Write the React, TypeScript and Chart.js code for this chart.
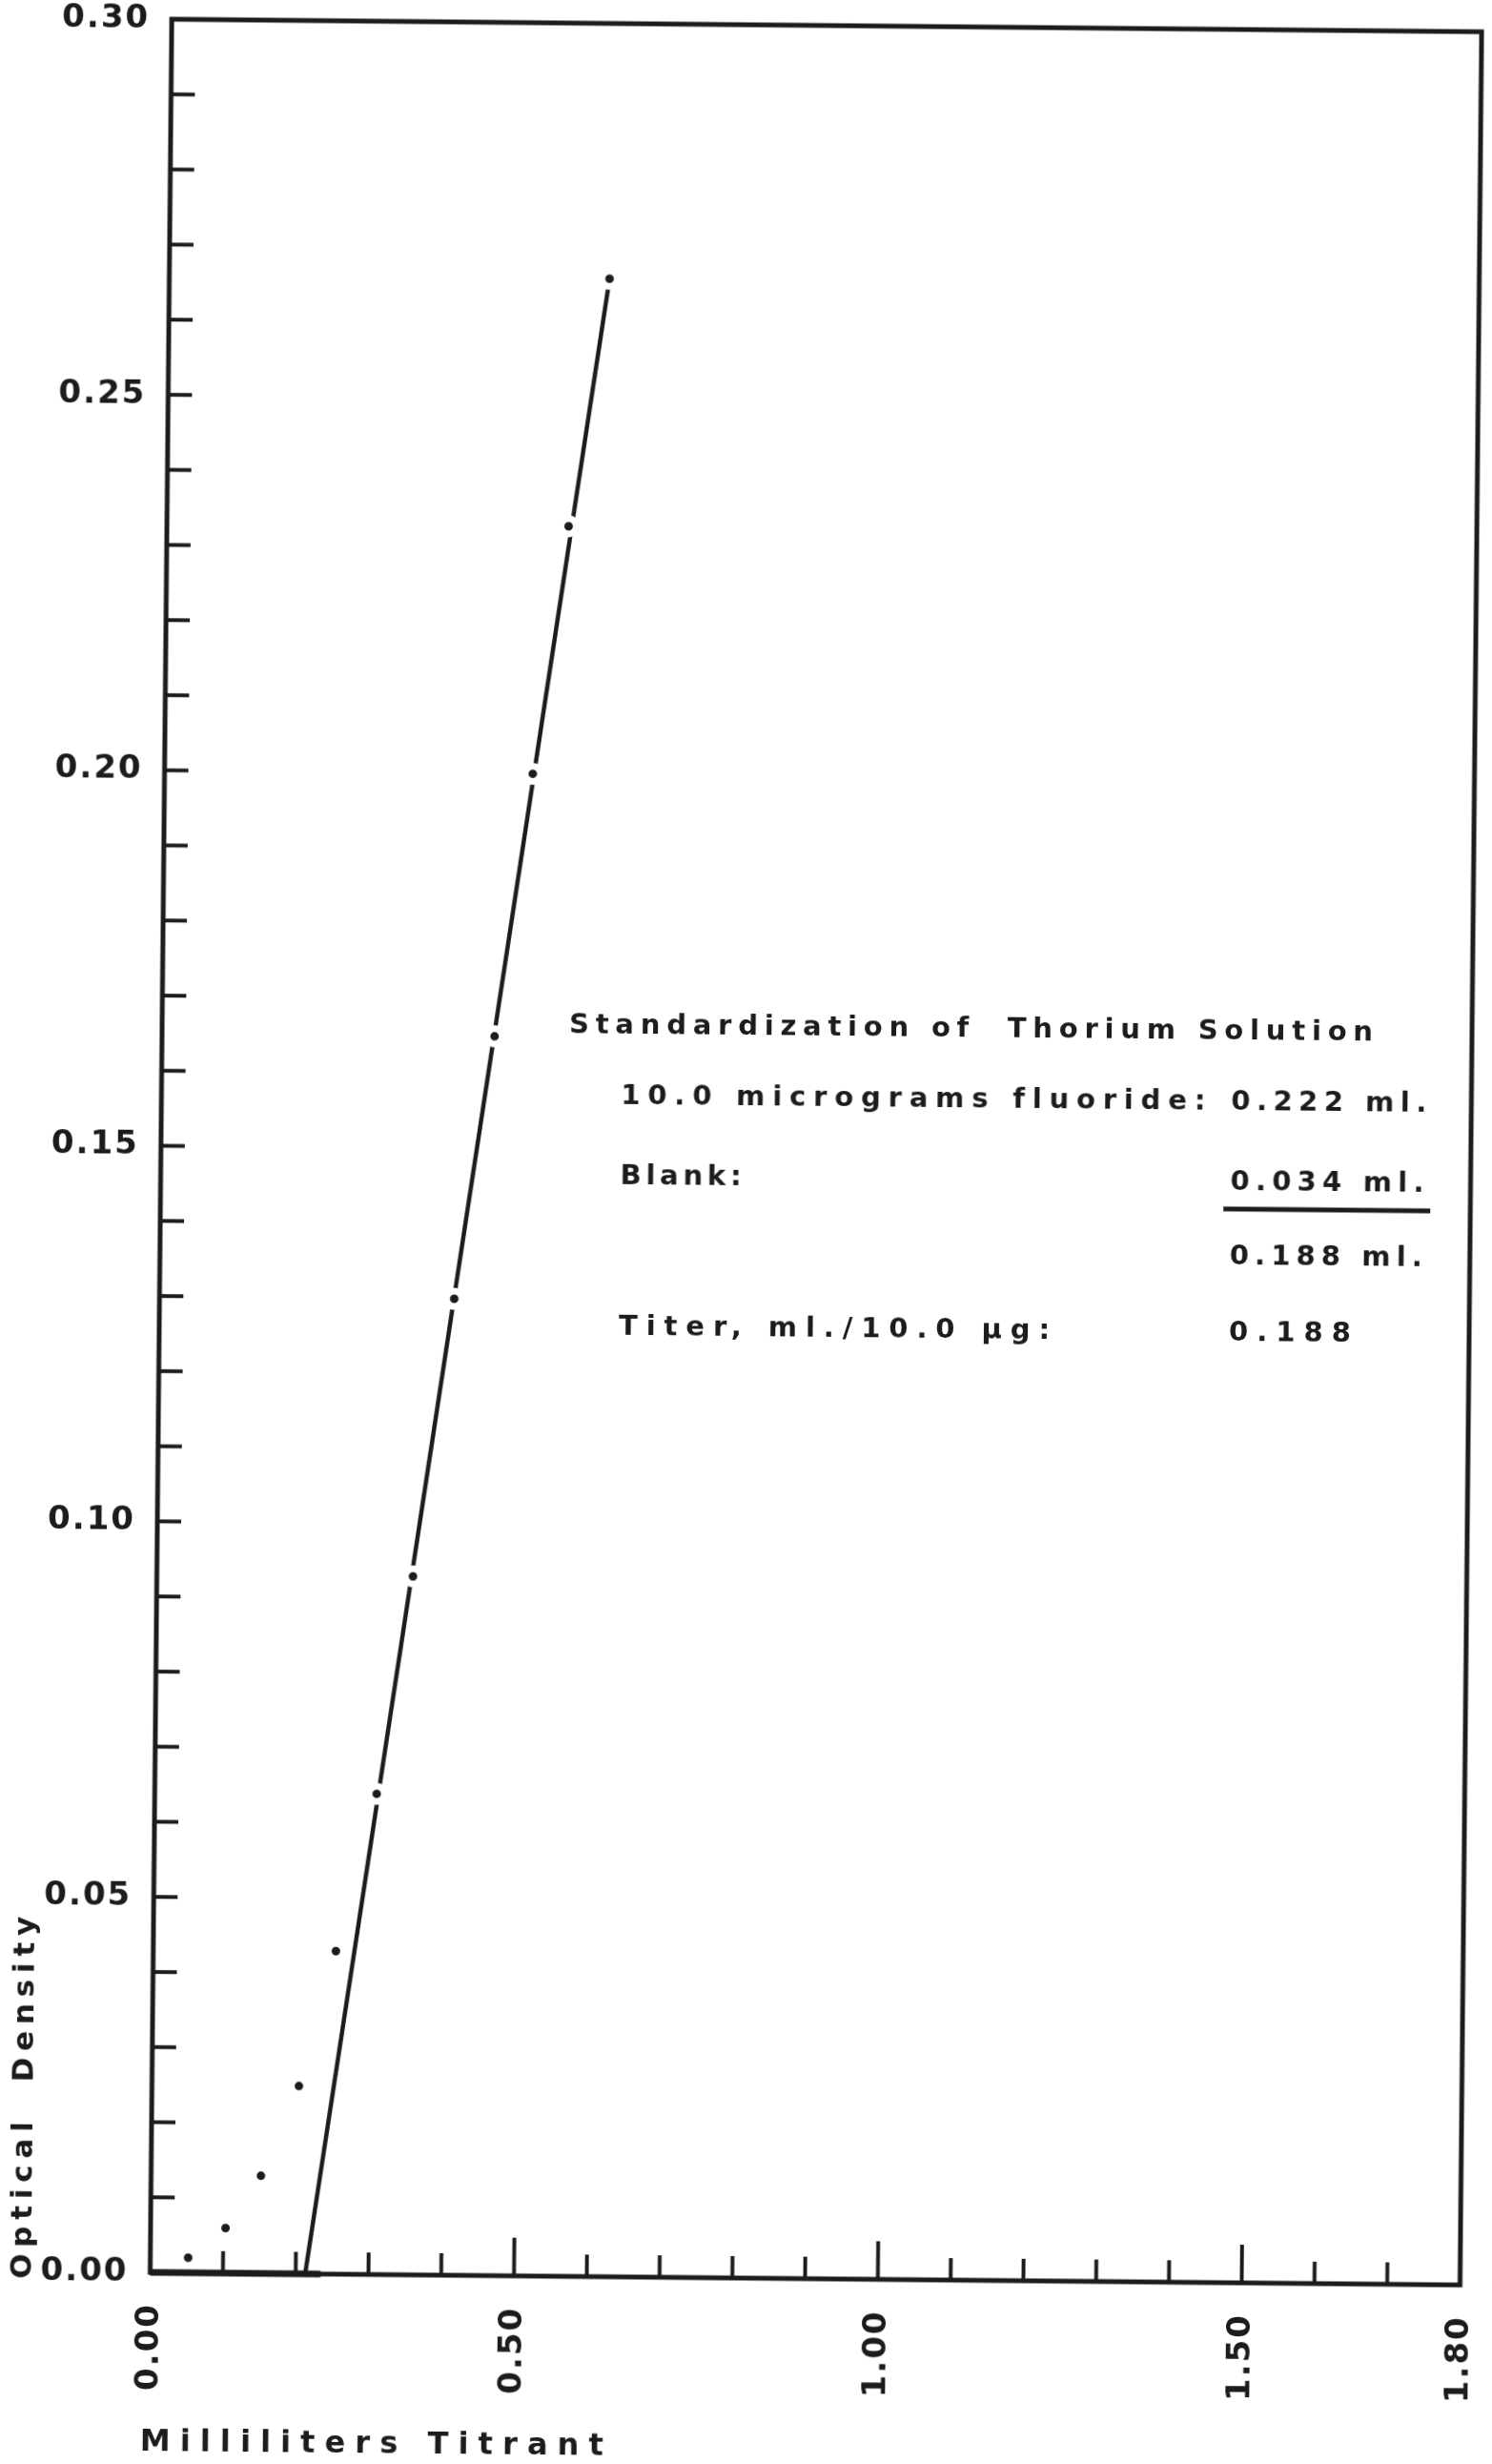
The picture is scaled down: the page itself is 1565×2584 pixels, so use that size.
import React, { useEffect, useRef } from 'react';
import { Chart, registerables } from 'chart.js';

Chart.register(...registerables);

const INK = '#1c1c1c';
const FONT = '"DejaVu Sans", sans-serif';

// ---- data ----
const titrantMl = [0.052, 0.103, 0.151, 0.202, 0.251, 0.305, 0.352, 0.405, 0.457, 0.506, 0.552, 0.605];
const opticalDensity = [0.002, 0.006, 0.013, 0.025, 0.043, 0.064, 0.093, 0.130, 0.165, 0.200, 0.233, 0.266];
const fitLineMl = [0.213, 0.605];
const fitLineOD = [0.0, 0.266];
const blankLineMl = [0.0, 0.234];
const blankLineOD = [0.0, 0.0];

const xTickValues = [0, 0.5, 1.0, 1.5, 1.8];
const xTickLabels = ['0.00', '0.50', '1.00', '1.50', '1.80'];
const xMajorTickValues = [0.5, 1.0, 1.5];
const yTickValues = [0, 0.05, 0.1, 0.15, 0.2, 0.25, 0.3];
const yTickLabels = ['0.00', '0.05', '0.10', '0.15', '0.20', '0.25', '0.30'];

const xAxisTitle = 'Milliliters Titrant';
const yAxisTitle = 'Optical  Density';
const noteHeading = 'Standardization of  Thorium Solution';
const noteRowLabels = ['10.0 micrograms fluoride:', 'Blank:', '', 'Titer, ml./10.0 µg:'];
const noteRowValues = ['0.222 ml.', '0.034 ml.', '0.188 ml.', '0.188'];

const near = (a: number, b: number) => Math.abs(a - b) < 1e-6;
const labelFor = (v: number, values: number[], labels: string[]) => {
  const i = values.findIndex((t) => near(t, v));
  return i >= 0 ? labels[i] : '';
};

// draws text spread out so that it spans the given width
function fitText(ctx: any, text: string, x: number, y: number, width: number, align: string) {
  ctx.letterSpacing = '0px';
  const natural = ctx.measureText(text).width;
  const spacing = Math.max(0, (width - natural) / Math.max(1, text.length - 1));
  ctx.letterSpacing = spacing + 'px';
  let sx = x;
  if (align === 'center') sx = x - width / 2;
  else if (align === 'right') sx = x - width;
  ctx.textAlign = 'left';
  ctx.fillText(text, sx, y);
  ctx.letterSpacing = '0px';
}

const paperPlugin = {
  id: 'paper',
  beforeDraw(chart: any) {
    chart.ctx.letterSpacing = '2px';
  },
  afterDraw(chart: any) {
    const { ctx, chartArea: a } = chart;
    const xs = chart.scales.x;
    const ys = chart.scales.y;
    ctx.save();
    ctx.letterSpacing = '0px';
    ctx.strokeStyle = INK;
    ctx.fillStyle = INK;
    ctx.lineCap = 'butt';

    // inward tick marks
    ctx.lineWidth = 4;
    for (const t of xs.ticks) {
      const px = xs.getPixelForValue(t.value);
      const len = xMajorTickValues.some((m) => near(m, t.value)) ? 40 : 23;
      ctx.beginPath();
      ctx.moveTo(px, a.bottom);
      ctx.lineTo(px, a.bottom - len);
      ctx.stroke();
    }
    for (const t of ys.ticks) {
      const py = ys.getPixelForValue(t.value);
      ctx.beginPath();
      ctx.moveTo(a.left, py);
      ctx.lineTo(a.left + 25, py);
      ctx.stroke();
    }

    // frame
    ctx.lineWidth = 5;
    ctx.strokeRect(a.left, a.top, a.right - a.left, a.bottom - a.top);

    // axis titles
    ctx.textBaseline = 'middle';
    ctx.font = `bold 32px ${FONT}`;
    fitText(ctx, xAxisTitle, 159, 2568, 486, 'left');
    ctx.save();
    ctx.translate(35, 2207);
    ctx.rotate(-Math.PI / 2);
    ctx.font = `bold 31px ${FONT}`;
    fitText(ctx, yAxisTitle, 0, 0, 380, 'center');
    ctx.restore();

    // note block
    ctx.font = `bold 29px ${FONT}`;
    fitText(ctx, noteHeading, 595, 1077, 843, 'left');
    const rowY = [1151, 1235, 1313, 1393];
    const labelW = [612, 127, 0, 452];
    const valueW = [205, 203, 202, 128];
    noteRowLabels.forEach((l, i) => {
      if (l) fitText(ctx, l, 650, rowY[i], labelW[i], 'left');
      fitText(ctx, noteRowValues[i], 1290, rowY[i], valueW[i], 'left');
    });
    ctx.lineWidth = 5;
    ctx.beginPath();
    ctx.moveTo(1283, 1263);
    ctx.lineTo(1500, 1263);
    ctx.stroke();

    ctx.restore();
    ctx.letterSpacing = '0px';
  },
};

export default function App() {
  const ref = useRef<HTMLCanvasElement | null>(null);

  useEffect(() => {
    if (!ref.current) return;
    const points = titrantMl.map((x, i) => ({ x, y: opticalDensity[i] }));
    const fit = fitLineMl.map((x, i) => ({ x, y: fitLineOD[i] }));
    const blank = blankLineMl.map((x, i) => ({ x, y: blankLineOD[i] }));

    const chart = new Chart(ref.current, {
      type: 'scatter',
      data: {
        datasets: [
          {
            label: 'Readings',
            data: points,
            showLine: false,
            pointRadius: 8,
            pointBackgroundColor: INK,
            pointBorderColor: '#ffffff',
            pointBorderWidth: 7,
            order: 0,
          },
          {
            label: 'Titration line',
            data: fit,
            showLine: true,
            borderColor: INK,
            borderWidth: 4.5,
            pointRadius: 0,
            order: 1,
          },
          {
            label: 'Blank',
            data: blank,
            showLine: true,
            borderColor: INK,
            borderWidth: 7,
            pointRadius: 0,
            clip: false,
            order: 2,
          },
        ],
      } as any,
      options: {
        responsive: false,
        animation: false,
        events: [],
        devicePixelRatio: 1,
        layout: { padding: { left: 0, top: 26, right: 23, bottom: 0 } },
        plugins: { legend: { display: false }, tooltip: { enabled: false } },
        scales: {
          x: {
            type: 'linear',
            min: 0,
            max: 1.8,
            grid: { display: false },
            border: { display: false },
            ticks: {
              stepSize: 0.1,
              maxTicksLimit: 100,
              autoSkip: false,
              minRotation: 90,
              maxRotation: 90,
              padding: 24,
              color: INK,
              font: { family: FONT, size: 34, weight: 'bold' },
              callback: (v: any) => labelFor(Number(v), xTickValues, xTickLabels),
            },
            afterFit: (s: any) => {
              s.height = 195;
              s.paddingLeft = 0;
              s.paddingRight = 0;
              s.paddingTop = 0;
              s.paddingBottom = 0;
            },
          },
          y: {
            type: 'linear',
            min: 0,
            max: 0.3,
            grid: { display: false },
            border: { display: false },
            ticks: {
              stepSize: 0.01,
              maxTicksLimit: 100,
              autoSkip: false,
              padding: 15,
              color: INK,
              font: { family: FONT, size: 34, weight: 'bold' },
              callback: (v: any) => labelFor(Number(v), yTickValues, yTickLabels),
            },
            afterFit: (s: any) => {
              s.width = 168;
              s.paddingLeft = 0;
              s.paddingRight = 0;
              s.paddingTop = 0;
              s.paddingBottom = 0;
            },
          },
        },
      } as any,
      plugins: [paperPlugin],
    });
    return () => chart.destroy();
  }, []);

  return (
    <div
      style={{
        position: 'fixed',
        left: 0,
        top: 0,
        width: '1565px',
        height: '2584px',
        overflow: 'hidden',
        background: '#ffffff',
      }}
    >
      <div
        style={{
          width: '1565px',
          height: '2584px',
          transform: 'rotate(0.55deg)',
          transformOrigin: '782.5px 1292px',
        }}
      >
        <canvas ref={ref} width={1565} height={2584} style={{ display: 'block', width: '1565px', height: '2584px' }} />
      </div>
    </div>
  );
}
